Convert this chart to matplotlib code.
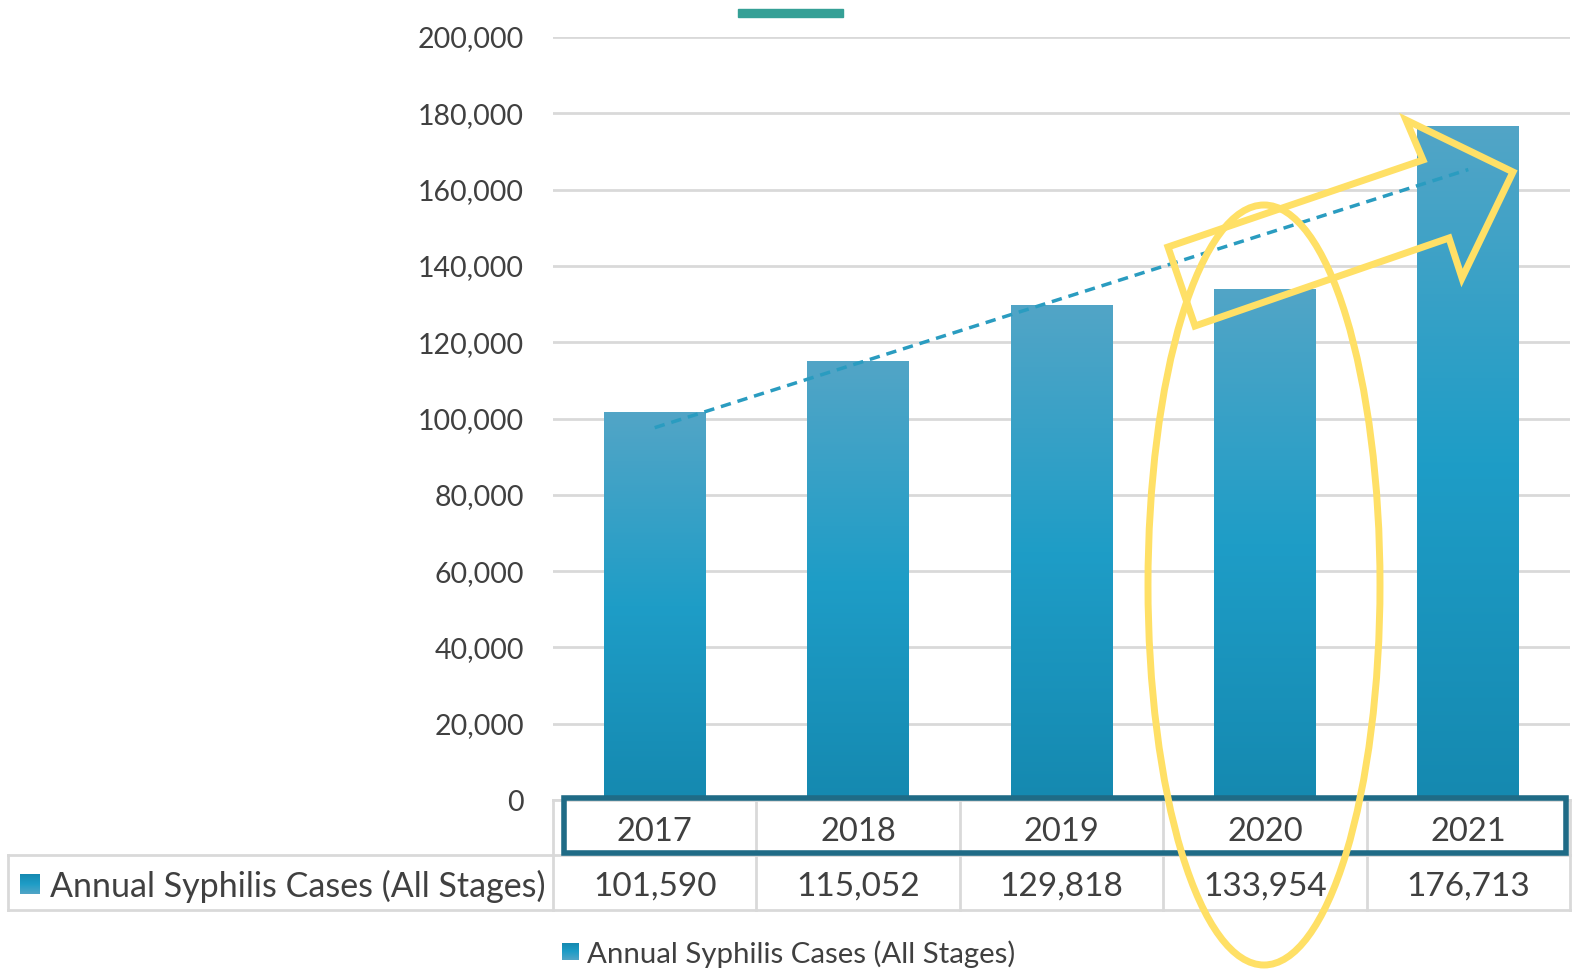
import numpy as np
import matplotlib.pyplot as plt
from matplotlib.patches import Ellipse, Polygon, Rectangle
from matplotlib.colors import LinearSegmentedColormap
from matplotlib.ticker import FuncFormatter

plt.rcParams['font.family'] = ['Lato', 'DejaVu Sans']

# data
years = ['2017', '2018', '2019', '2020', '2021']
cases = [101590, 115052, 129818, 133954, 176713]
series_name = 'Annual Syphilis Cases (All Stages)'
y_ticks = [0, 20000, 40000, 60000, 80000, 100000, 120000, 140000, 160000, 180000, 200000]

text_col = '#404040'
grid_col = '#d9d9d9'
yellow = '#ffe066'
grad = LinearSegmentedColormap.from_list('bar', ['#1589b0', '#1e9dc7', '#52a5c6'])
grad_img = np.linspace(0, 1, 256).reshape(-1, 1)

fig = plt.figure(figsize=(15.72, 9.71), dpi=100)
ax = fig.add_axes([553 / 1572, 1 - 800 / 971, 1017 / 1572, 763 / 971])

x = np.arange(len(years))
bars = ax.bar(x, cases, width=0.5, color='none', zorder=2)
for b in bars:
    im = ax.imshow(grad_img, cmap=grad, origin='lower', aspect='auto', zorder=2,
                   extent=[b.get_x(), b.get_x() + b.get_width(), 0, b.get_height()])
    im.set_clip_path(b)

# linear trendline
k, c = np.polyfit(x, cases, 1)
ax.plot(x, k * x + c, ls=(0, (3, 2)), color='#2a9cc0', lw=2.5, zorder=3)

ax.set_xlim(-0.5, len(years) - 0.5)
ax.set_ylim(0, 200000)
ax.set_yticks(y_ticks)
ax.yaxis.set_major_formatter(FuncFormatter(lambda v, p: f'{int(v):,}'))
ax.tick_params(axis='y', length=0, pad=21, labelsize=20.5, labelcolor=text_col)
ax.set_xticks([])
ax.grid(axis='y', color=grid_col, lw=2, zorder=0)
ax.set_axisbelow(True)
for s in ax.spines.values():
    s.set_visible(False)

# data table under the axis
tr = ax.get_xaxis_transform()
r0, r1, r2 = 0, -55 / 763, -110 / 763
dy = -4 / 763
for i, (yr, v) in enumerate(zip(years, cases)):
    ax.text(i, (r0 + r1) / 2 + dy, yr, transform=tr, ha='center', va='center',
            fontsize=23.5, color=text_col, clip_on=False)
    ax.text(i, (r1 + r2) / 2 + dy, f'{v:,}', transform=tr, ha='center', va='center',
            fontsize=24, color=text_col, clip_on=False)
for e in np.arange(-0.5, len(years), 1.0):
    ax.plot([e, e], [r0, r2], transform=tr, color=grid_col, lw=2, clip_on=False, zorder=1)
left = -545 / 1017
ax.plot([-0.5, len(years) - 0.5], [r0, r0], transform=tr, color=grid_col, lw=2, clip_on=False)
ax.plot([left, 1], [r1, r1], transform=ax.transAxes, color=grid_col, lw=2, clip_on=False)
ax.plot([left, 1], [r2, r2], transform=ax.transAxes, color=grid_col, lw=2, clip_on=False)
ax.plot([left, left], [r1, r2], transform=ax.transAxes, color=grid_col, lw=2, clip_on=False)
ax.text(-503 / 1017, (r1 + r2) / 2 + dy, series_name, transform=ax.transAxes, ha='left',
        va='center', fontsize=24.5, color=text_col, clip_on=False)

# overlay in pixel coordinates for annotations
ov = fig.add_axes([0, 0, 1, 1], zorder=5)
ov.axis('off')

ov.imshow(grad_img, cmap=grad, origin='upper', aspect='auto', extent=[20, 40, 894, 874])
ov.imshow(grad_img, cmap=grad, origin='upper', aspect='auto', extent=[562, 579, 960, 943])
ov.set_xlim(0, 1572)
ov.set_ylim(971, 0)
ov.text(587, 954, series_name, ha='left', va='center', fontsize=21.2, color=text_col)

ov.add_patch(Rectangle((738, 9), 105, 8, color='#35a096'))
ov.add_patch(Rectangle((564, 798), 1002, 55, fill=False, ec='#1f6b86', lw=4))
ov.add_patch(Ellipse((1264, 585), 232, 760, fill=False, ec=yellow, lw=5))
arrow_pts = [(1168, 247), (1423, 160), (1406, 120), (1513, 172), (1462, 278),
             (1449, 238), (1195, 326)]
ov.add_patch(Polygon(arrow_pts, closed=True, fill=False, ec=yellow, lw=5, joinstyle='miter'))

fig.savefig('out.png', dpi=100)
